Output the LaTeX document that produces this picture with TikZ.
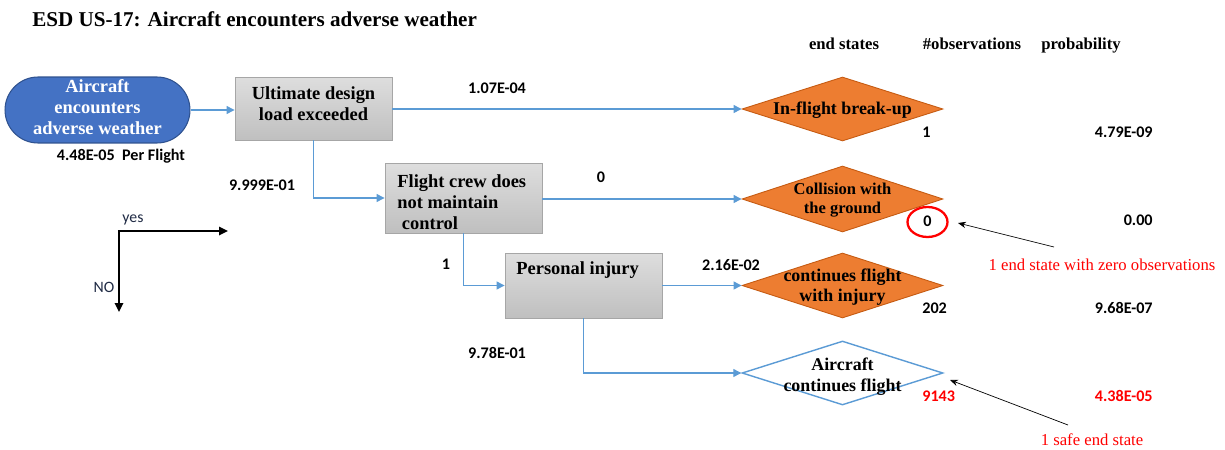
\documentclass[tikz,border=0pt]{standalone}
\usepackage{fontspec}
\setmainfont{Liberation Serif}
\newfontfamily\carl{Carlito}
\usetikzlibrary{arrows.meta,shapes.geometric}
\definecolor{conn}{HTML}{5B9BD5}
\definecolor{pillfill}{HTML}{4472C4}
\definecolor{pilldraw}{HTML}{2F528F}
\definecolor{orangefill}{HTML}{ED7D31}
\definecolor{orangedraw}{HTML}{C55A11}
\definecolor{redtxt}{HTML}{FF0000}
\definecolor{axistxt}{HTML}{1F2A44}
\tikzset{
  pill/.style={rectangle, rounded corners=0.66cm, fill=pillfill, draw=pilldraw, line width=0.6pt,
    minimum width=3.7cm, minimum height=1.32cm, inner sep=0pt},
  pilltext/.style={align=center, inner sep=0pt, text=white, font=\fontsize{10.5}{12}\selectfont\bfseries},
  gbox/.style={rectangle, top color=gray!26, bottom color=gray!50, draw=gray!70, line width=0.5pt,
    minimum width=3.14cm, inner sep=0pt},
  btext/.style={inner sep=0pt, font=\fontsize{10.5}{12}\selectfont\bfseries},
  endst/.style={diamond, fill=orangefill, draw=orangedraw, line width=0.5pt, minimum width=4.02cm, inner sep=0pt},
  safest/.style={diamond, fill=white, draw=conn, line width=0.8pt, minimum width=4.02cm, inner sep=0pt},
  dtext/.style={align=center, inner sep=0pt, font=\fontsize{10.2}{12}\selectfont\bfseries},
  num/.style={inner sep=0pt, font=\carl\fontsize{9.2}{11}\selectfont\bfseries},
  hdr/.style={inner sep=0pt, anchor=base, font=\fontsize{9.5}{11}\selectfont\bfseries},
  note/.style={inner sep=0pt, text=redtxt, font=\fontsize{9.5}{11}\selectfont},
  conline/.style={draw=conn, line width=0.6pt, -{Triangle[length=4.5pt,width=4.5pt]}},
  ptr/.style={draw=black, line width=0.4pt, -{Stealth[length=4.5pt,width=3.6pt]}},
  axis/.style={draw=black, line width=1.3pt, -{Triangle[length=5pt,width=4.6pt]}},
  axlbl/.style={inner sep=0pt, text=axistxt, font=\carl\fontsize{9}{11}\selectfont}
}
\begin{document}
\begin{tikzpicture}[x=0.02cm,y=-0.02cm]
\useasboundingbox (0,0) rectangle (1225,450);

% title
\node[anchor=west, inner sep=0pt, font=\fontsize{12}{14}\selectfont\bfseries] (title) at (32,19) {ESD US-17: Aircraft encounters adverse weather};

% headers
\node[hdr] (h1) at (844,49) {end states};
\node[hdr] (h2) at (972,49) {\#observations};
\node[hdr] (h3) at (1081,49) {probability};

% initiating event
\node[pill] (start) at (97.5,110) {};
\node[pilltext] (startt) at (97.5,107) {Aircraft\\encounters\\adverse weather};
\node[num] (freq) at (121,156) {4.48E-05\ \ Per Flight};

% pivotal events
\node[gbox, minimum height=1.26cm] (b1) at (313.5,108.5) {};
\node[btext, align=center] (b1t) at (313.5,103.5) {Ultimate design\\load exceeded};
\node[gbox, minimum height=1.4cm] (b2) at (463.5,198) {};
\node[btext, align=left, anchor=west] (b2t) at (397,202) {Flight crew does\\not maintain\\\ control};
\node[gbox, minimum height=1.3cm] (b3) at (583.5,285.5) {};
\node[btext, anchor=west] (b3t) at (516,270) {Personal injury};

% end states
\node[endst, minimum height=1.28cm] (d1) at (842.5,109) {};
\node[dtext] (d1t) at (842.5,110) {In-flight break-up};
\node[endst, minimum height=1.32cm] (d2) at (842.5,199) {};
\node[dtext, font=\fontsize{9.4}{10.8}\selectfont\bfseries] (d2t) at (842.5,200.5) {Collision with\\the ground};
\node[endst, minimum height=1.3cm] (d3) at (842.5,285.5) {};
\node[dtext, font=\fontsize{10.2}{11.4}\selectfont\bfseries] (d3t) at (842.5,287) {continues flight\\with injury};
\node[safest, minimum height=1.28cm] (d4) at (842.5,373) {};
\node[dtext] (d4t) at (842.5,377) {Aircraft\\continues flight};

% connectors
\draw[conline] (start.east) -- (b1.west |- start.east);
\draw[conline] (b1.east |- d1.west) -- (d1.west);
\draw[conline] (b1.south) |- (b2.west);
\draw[conline] (b2.east |- d2.west) -- (d2.west);
\draw[conline] (b2.south) |- (b3.west);
\draw[conline] (b3.east |- d3.west) -- (d3.west);
\draw[conline] (b3.south) |- (d4.west);

% branch probabilities
\node[num] (p1) at (497,88) {1.07E-04};
\node[num] (p2) at (262,185) {9.999E-01};
\node[num] (p3) at (601,177) {0};
\node[num] (p4) at (446,264) {1};
\node[num] (p5) at (731,265) {2.16E-02};
\node[num] (p6) at (497,353) {9.78E-01};

% observations
\node[num, anchor=west] (o1) at (922,132) {1};
\node[ellipse, draw=red, line width=1.3pt, minimum width=0.8cm, minimum height=0.6cm, inner sep=0pt] (o2c) at (927.5,222) {};
\node[num] (o2) at (927.5,221) {0};
\node[num, anchor=west] (o3) at (922,308) {202};
\node[num, anchor=west, text=redtxt] (o4) at (922,396) {9143};

% probabilities
\node[num, anchor=east] (q1) at (1153,132) {4.79E-09};
\node[num, anchor=east] (q2) at (1153,220) {0.00};
\node[num, anchor=east] (q3) at (1153,308) {9.68E-07};
\node[num, anchor=east, text=redtxt] (q4) at (1153,396) {4.38E-05};

% notes
\node[note] (n1) at (1102,265) {1 end state with zero observations};
\node[note] (n2) at (1092,440) {1 safe end state};
\coordinate (n1s) at (1054,247);
\coordinate (n1e) at (958,223);
\coordinate (n2s) at (1068,425);
\coordinate (n2e) at (950,380);
\draw[ptr] (n1s) -- (n1e);
\draw[ptr] (n2s) -- (n2e);

% yes / NO legend
\coordinate (ax0) at (119,231);
\coordinate (axr) at (228,231);
\coordinate (axd) at (119,312);
\draw[axis] ([xshift=-0.65pt]ax0) -- (axr);
\draw[axis] (ax0) -- (axd);
\node[axlbl] (yes) at (133,220) {yes};
\node[axlbl] (no) at (104,287) {NO};
\end{tikzpicture}
\end{document}
